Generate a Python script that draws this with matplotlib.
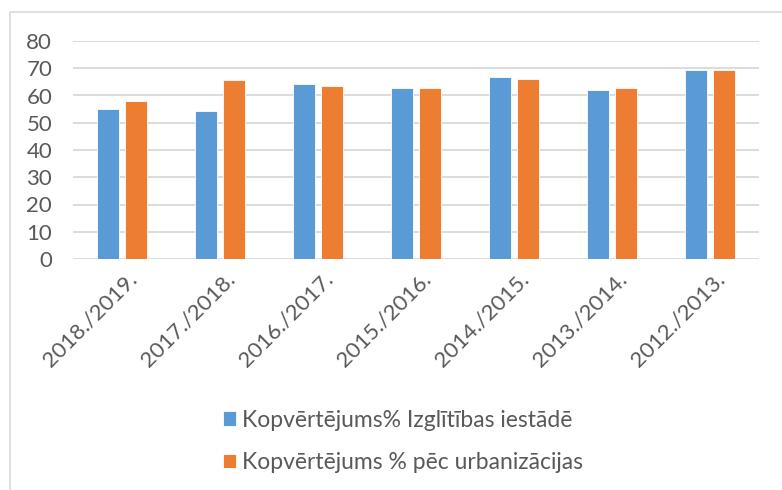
import numpy as np
import matplotlib.pyplot as plt
import matplotlib.transforms as mtransforms
from matplotlib.lines import Line2D

# school years and the two series
years = ['2018./2019.', '2017./2018.', '2016./2017.', '2015./2016.',
         '2014./2015.', '2013./2014.', '2012./2013.']
school = [55.0, 54.3, 64.1, 62.9, 66.8, 62.1, 69.2]
urban = [58.1, 65.6, 63.6, 62.6, 66.2, 62.6, 69.5]
labels = ['Kopvērtējums% Izglītības iestādē', 'Kopvērtējums % pēc urbanizācijas']

plt.rcParams['font.family'] = ['Lato', 'DejaVu Sans']
text_col = '#595959'

fig = plt.figure(figsize=(7.82, 4.90), dpi=100)
ax = fig.add_axes([73 / 782, 1 - 259 / 490, (759 - 73) / 782, (259 - 41) / 490])

x = np.arange(len(years))
w = 0.225
ax.bar(x - 0.03 - w / 2, school, w, color='#5B9BD5', edgecolor='white', linewidth=0.6,
       label=labels[0], zorder=3)
ax.bar(x + 0.03 + w / 2, urban, w, color='#ED7D31', edgecolor='white', linewidth=0.6,
       label=labels[1], zorder=3)

ax.set_xlim(-0.5, len(years) - 0.5)
ax.set_ylim(0, 80)
ax.set_yticks(range(0, 81, 10))
ax.yaxis.grid(True, color='#D9D9D9', linewidth=1.3, zorder=0)
ax.set_xticks(x)
ax.set_xticklabels(years, rotation=45, ha='right', rotation_mode='anchor')
for s in ax.spines.values():
    s.set_visible(False)
ax.tick_params(axis='both', length=0, labelsize=16, colors=text_col)
ax.tick_params(axis='x', pad=7)
ax.tick_params(axis='y', pad=15)

# nudge the slanted year labels a bit to the right
shift = mtransforms.ScaledTranslation(5 / 100, 0, fig.dpi_scale_trans)
for t in ax.get_xticklabels():
    t.set_transform(t.get_transform() + shift)

leg = fig.legend(loc='center', bbox_to_anchor=(0.515, 0.099), ncol=1, frameon=False,
                 fontsize=16.5, labelcolor=text_col, labelspacing=0.95,
                 handlelength=0.57, handleheight=0.57, handletextpad=0.25)

# chart area border (left and top edges visible)
fig.add_artist(Line2D([10 / 782, 10 / 782, 1.0], [0, 1 - 12 / 490, 1 - 12 / 490],
                      color='#D9D9D9', linewidth=1.2, transform=fig.transFigure))

fig.savefig('out.png', dpi=100)
